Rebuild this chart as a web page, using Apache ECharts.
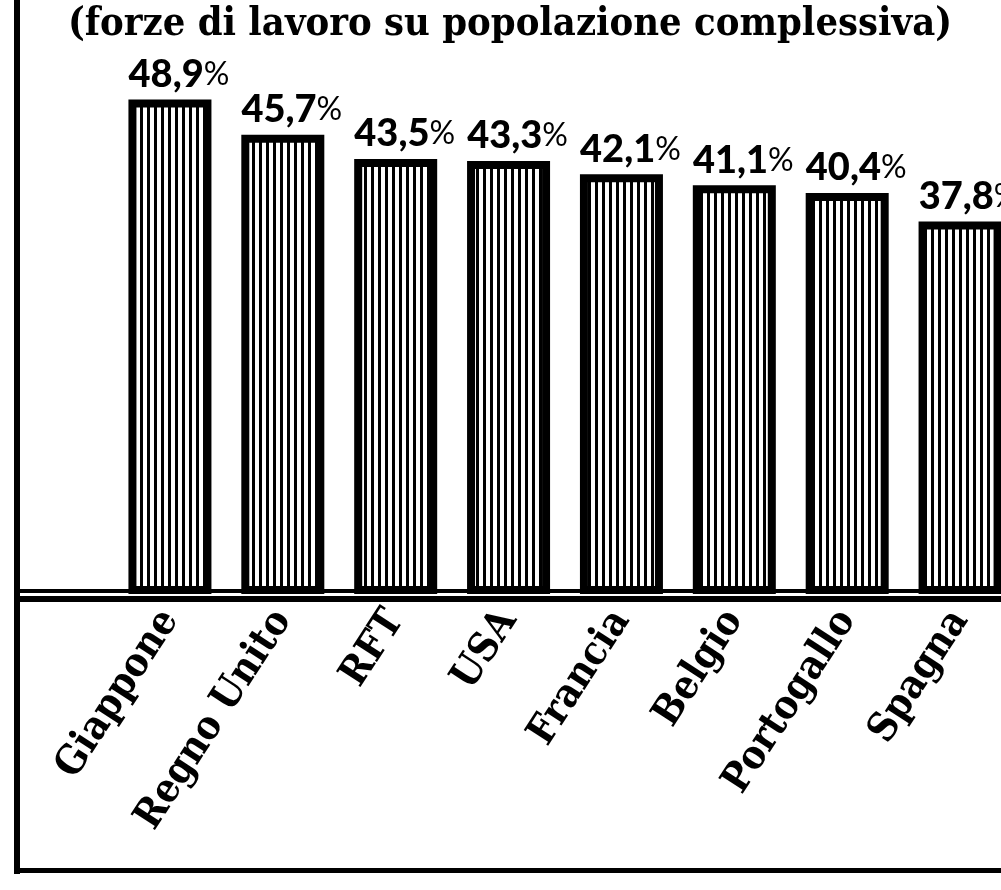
<!DOCTYPE html>
<html>
<head>
<meta charset="utf-8">
<script src="https://cdn.jsdelivr.net/npm/echarts@6/dist/echarts.min.js"></script>
<style>html,body{margin:0;padding:0;background:#fff;overflow:hidden}#c{width:1020px;height:890px}</style>
</head>
<body>
<div id="c"></div>
<script>
const titleText = '(forze di lavoro su popolazione complessiva)';
const categories = ['Giappone', 'Regno Unito', 'RFT', 'USA', 'Francia', 'Belgio', 'Portogallo', 'Spagna'];
const values = [48.9, 45.7, 43.5, 43.3, 42.1, 41.1, 40.4, 37.8];

// vertical stripe pattern
const pc = document.createElement('canvas');
pc.width = 7; pc.height = 10;
const pctx = pc.getContext('2d');
pctx.fillStyle = '#fff'; pctx.fillRect(0, 0, 7, 10);
pctx.fillStyle = '#000'; pctx.fillRect(0, 0, 3, 10);

const chart = echarts.init(document.getElementById('c'), null, {renderer: 'canvas'});
chart.setOption({
  backgroundColor: '#fff',
  animation: false,
  title: {
    text: titleText,
    left: 63,
    top: 0,
    textStyle: {fontFamily: 'DejaVu Serif Condensed', fontWeight: 'bold', fontSize: 39.5, color: '#000'}
  },
  grid: {left: 113.5, width: 903, top: 0, height: 590},
  xAxis: {
    type: 'category',
    data: categories,
    axisLine: {show: false},
    axisTick: {show: false},
    axisLabel: {
      interval: 0,
      rotate: 57,
      margin: 24,
      fontFamily: 'DejaVu Serif Condensed',
      fontWeight: 'bold',
      fontSize: 40,
      color: '#000'
    }
  },
  yAxis: {
    type: 'value',
    min: 4.3,
    max: 57.95,
    show: false,
    splitLine: {show: false}
  },
  series: [{
    type: 'bar',
    data: values,
    barWidth: 83,
    itemStyle: {
      color: {image: pc, repeat: 'repeat'},
      borderColor: '#000',
      borderWidth: 8
    },
    label: {
      show: true,
      position: 'top',
      distance: 6,
      offset: [9, 0],
      formatter: p => '{n|' + p.value.toFixed(1).replace('.', ',') + '}{p|%}',
      rich: {
        n: {fontFamily: 'Lato', fontWeight: 900, fontSize: 38, color: '#000'},
        p: {fontFamily: 'Lato', fontWeight: 'normal', fontSize: 32, color: '#000'}
      }
    }
  }],
  graphic: [
    {type: 'rect', shape: {x: 14, y: 0, width: 6, height: 874}, style: {fill: '#000'}},
    {type: 'rect', shape: {x: 14, y: 868, width: 1006, height: 5}, style: {fill: '#000'}},
    {type: 'rect', shape: {x: 14, y: 596, width: 1006, height: 6}, style: {fill: '#000'}},
    {type: 'rect', shape: {x: 20, y: 589, width: 1000, height: 4}, style: {fill: '#000'}}
  ]
});
</script>
</body>
</html>
